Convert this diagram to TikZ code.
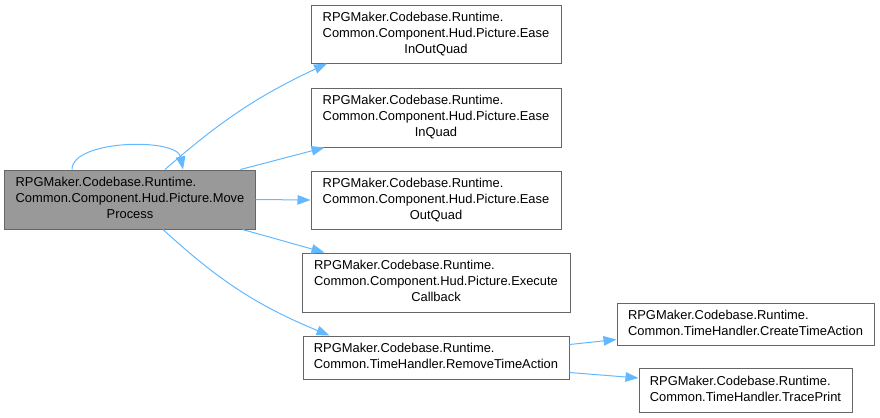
\documentclass[tikz,border=0pt]{standalone}
\usepackage{fontspec}
\setmainfont{Liberation Sans}
\usetikzlibrary{arrows.meta,positioning}
\definecolor{edgeblue}{HTML}{63B8FF}
\definecolor{boxgray}{HTML}{999999}
\definecolor{framegray}{HTML}{666666}
\newcommand{\fnlabel}[2]{\begin{tabular}{@{}l@{}}#1\\\multicolumn{1}{@{}c@{}}{#2}\end{tabular}}
\begin{document}
\begin{tikzpicture}[x=1bp,y=-1bp]
\tikzstyle{fn}=[draw=framegray,fill=white,rectangle,line width=1bp,inner sep=0pt,
  font=\fontsize{12.9bp}{16bp}\selectfont]
\tikzstyle{call}=[draw=edgeblue,line width=1bp,-{Triangle[length=13bp,width=9.5bp]}]
\useasboundingbox (0,0) rectangle (880,417);
\node[fn,fill=boxgray,minimum width=250bp,minimum height=59bp] (move) at (130,199.5)
  {\fnlabel{RPGMaker.Codebase.Runtime.\\Common.Component.Hud.Picture.Move}{Process}};
\node[fn,minimum width=250bp,minimum height=58bp] (inout) at (436,34)
  {\fnlabel{RPGMaker.Codebase.Runtime.\\Common.Component.Hud.Picture.Ease}{InOutQuad}};
\node[fn,minimum width=250bp,minimum height=59bp] (in) at (436,117.5)
  {\fnlabel{RPGMaker.Codebase.Runtime.\\Common.Component.Hud.Picture.Ease}{InQuad}};
\node[fn,minimum width=250bp,minimum height=58bp] (out) at (436,200)
  {\fnlabel{RPGMaker.Codebase.Runtime.\\Common.Component.Hud.Picture.Ease}{OutQuad}};
\node[fn,minimum width=268bp,minimum height=59bp] (callback) at (436,282.5)
  {\fnlabel{RPGMaker.Codebase.Runtime.\\Common.Component.Hud.Picture.Execute}{Callback}};
\node[fn,minimum width=266bp,minimum height=43bp] (remove) at (436,357.5)
  {\fnlabel{RPGMaker.Codebase.Runtime.}{Common.TimeHandler.RemoveTimeAction}};
\node[fn,minimum width=257bp,minimum height=42bp] (create) at (745.5,324)
  {\fnlabel{RPGMaker.Codebase.Runtime.}{Common.TimeHandler.CreateTimeAction}};
\node[fn,minimum width=213bp,minimum height=44bp] (trace) at (745.5,390)
  {\fnlabel{RPGMaker.Codebase.Runtime.}{Common.TimeHandler.TracePrint}};
% calls
\draw[call] ([xshift=-58bp]move.north) .. controls +(0,-30) and +(-6,-32) .. ([xshift=53bp]move.north);
\draw[call] ([xshift=35bp]move.north) to[bend left=8] ([xshift=-109bp]inout.south);
\draw[call] ([xshift=-15bp]move.north east) -- ([xshift=14bp]in.south west);
\draw[call] (move.east) -- (out.west);
\draw[call] ([xshift=-13bp]move.south east) -- ([xshift=23bp]callback.north west);
\draw[call] ([xshift=33bp]move.south) to[bend right=10] ([xshift=27bp]remove.north west);
\draw[call] ([yshift=-9bp]remove.north east) -- ([yshift=6bp]create.south west);
\draw[call] ([yshift=7bp]remove.south east) -- ([yshift=12bp]trace.west);
\end{tikzpicture}
\end{document}
